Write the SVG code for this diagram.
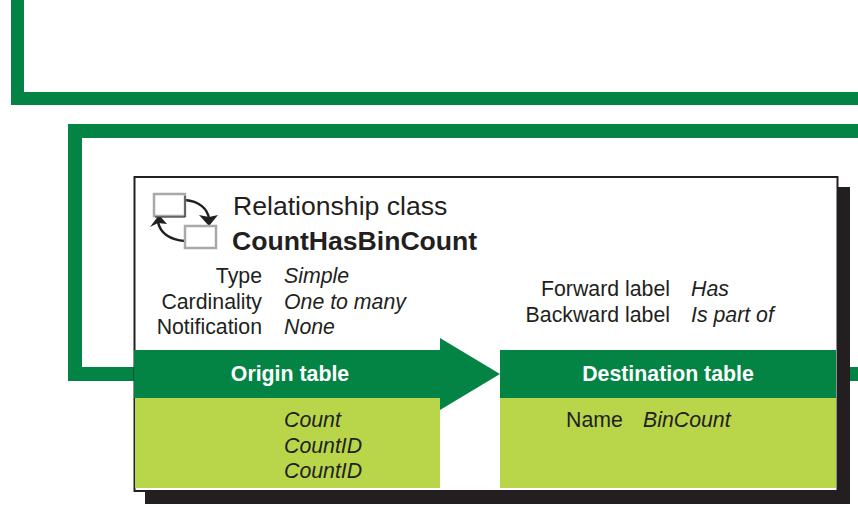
<svg xmlns="http://www.w3.org/2000/svg" width="858" height="508" viewBox="0 0 858 508">
<style>
.g{fill:#038445}.l{fill:#b9d64b}
text{font-family:"Liberation Sans",Arial,sans-serif;fill:#231f20;font-size:21.300px}
.i{font-style:italic}.e{text-anchor:end}
.h{font-weight:bold;fill:#fff;text-anchor:middle}
.t{font-size:26.600px}
.box{fill:#fff;stroke:#a7a9ac;stroke-width:2.500}
.c{fill:none;stroke:#231f20;stroke-width:2.500}
</style>
<rect width="858" height="508" fill="#fff"/>
<g id="frames">
<path class="g" d="M11 0H24V92H858V105H11Z"/>
<path class="g" d="M68 124H858V138H82V367H134V381H68Z"/>
<rect class="g" x="850" y="367" width="8" height="14"/>
</g>
<g id="card">
<rect x="145" y="187" width="705" height="317" fill="#231f20"/>
<rect x="134.500" y="177" width="703" height="314" fill="#fff" stroke="#231f20" stroke-width="2"/>
</g>
<g id="icon">
<path class="c" d="M185 200C199 201 208 209 209 219"/>
<path fill="#231f20" d="M199 215L209 217L218 215L209 226Z"/>
<path class="c" d="M185 241C170 240 160 233 158 222"/>
<path fill="#231f20" d="M150 227L159 215L167 224L158 223Z"/>
<rect class="box" x="154" y="194" width="31" height="22"/>
<path d="M185 196V217H155" fill="none" stroke="#231f20" stroke-width="1"/>
<rect class="box" x="185" y="226" width="31" height="22"/>
</g>
<g id="title">
<text class="t" x="233" y="215">Relationship class</text>
<text class="t" x="232" y="250" font-weight="bold">CountHasBinCount</text>
</g>
<g id="properties">
<text class="e" x="262" y="283">Type</text><text class="i" x="284" y="283">Simple</text>
<text class="e" x="262" y="309">Cardinality</text><text class="i" x="284" y="309">One to many</text>
<text class="e" x="262" y="334">Notification</text><text class="i" x="284" y="334">None</text>
<text class="e" x="670" y="296">Forward label</text><text class="i" x="691" y="296">Has</text>
<text class="e" x="670" y="322">Backward label</text><text class="i" x="691" y="322">Is part of</text>
</g>
<g id="origin-table">
<rect class="l" x="135" y="398" width="305" height="90"/>
<path class="g" d="M134 350H440V338L500 374L440 410V398H134Z"/>
<text class="h" x="290" y="381">Origin table</text>
<text class="i" x="284" y="427">Count</text>
<text class="i" x="284" y="453">CountID</text>
<text class="i" x="284" y="478">CountID</text>
</g>
<g id="destination-table">
<rect class="l" x="500" y="398" width="336" height="90"/>
<rect class="g" x="500" y="350" width="336" height="48"/>
<text class="h" x="668" y="381">Destination table</text>
<text x="566" y="427">Name</text>
<text class="i" x="643" y="427">BinCount</text>
</g>
</svg>
